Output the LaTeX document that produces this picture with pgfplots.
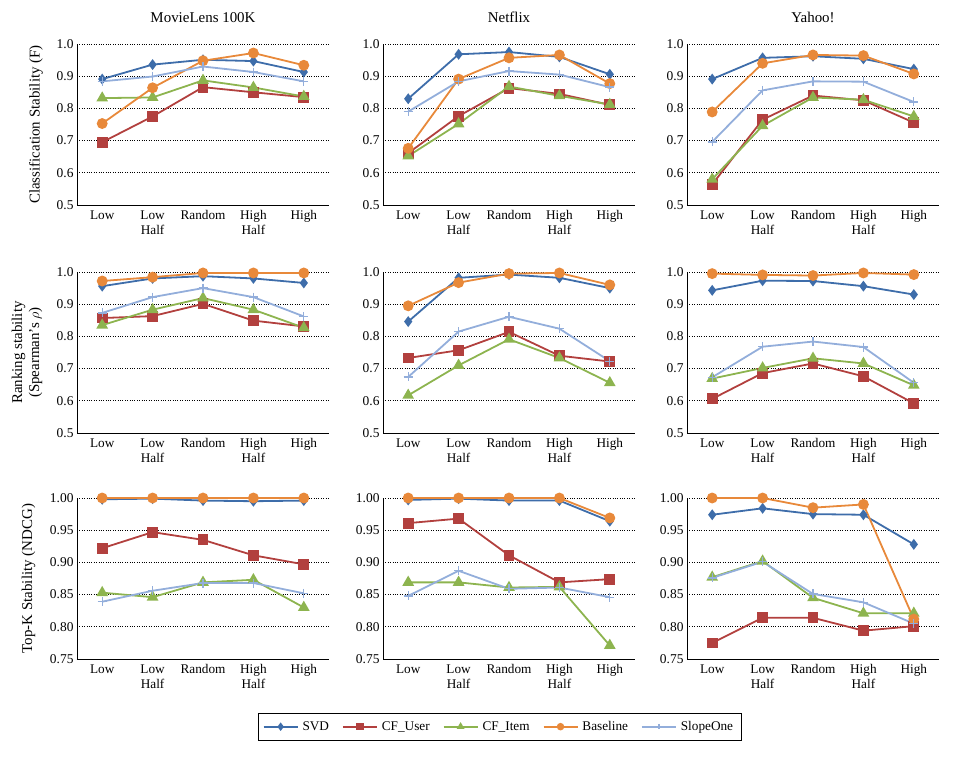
\documentclass[border=0pt]{standalone}
\usepackage{pgfplots}
\pgfplotsset{compat=1.18}
\usepackage{fontspec}
\setmainfont{Liberation Serif}
\definecolor{cSVD}{HTML}{3E6DAA}
\definecolor{cUser}{HTML}{B2403E}
\definecolor{cItem}{HTML}{8DB44F}
\definecolor{cBase}{HTML}{E8893A}
\definecolor{cSlope}{HTML}{93AEDB}
\pgfplotsset{
  myaxis/.style={
    scale only axis, width=252bp, height=161bp,
    xmin=-0.5, xmax=4.5,
    xtick={0,1,2,3,4},
    xticklabels={Low,Low\\Half,Random,High\\Half,High},
    xticklabel style={align=center, font=\fontsize{13.3}{15}\selectfont, yshift=-2bp},
    yticklabel style={font=\fontsize{13.5}{15}\selectfont},
    /pgf/number format/assume math mode=true,
    axis x line*=bottom, axis y line*=left,
    axis line style={-, black, line width=0.8bp},
    major tick length=0pt,
    ymajorgrids, grid style={dotted, black, line width=0.8bp},
    title style={font=\fontsize{15}{17}\selectfont, at={(0.5,1)}, anchor=base, yshift=16bp},
    ylabel style={font=\fontsize{15}{17}\selectfont, align=center},
    every axis plot/.append style={line width=1.8bp},
    clip=false,
  },
  rowA/.style={ymin=0.5, ymax=1.0, ytick={0.5,0.6,0.7,0.8,0.9,1.0},
    yticklabel style={/pgf/number format/.cd, fixed, fixed zerofill, precision=1}},
  rowC/.style={ymin=0.75, ymax=1.0, ytick={0.75,0.80,0.85,0.90,0.95,1.00},
    yticklabel style={/pgf/number format/.cd, fixed, fixed zerofill, precision=2}},
  pSVD/.style={color=cSVD, mark=diamond*, mark size=4bp, mark options={solid}},
  pUser/.style={color=cUser, mark=square*, mark size=4.5bp},
  pItem/.style={color=cItem, mark=triangle*, mark size=5bp},
  pBase/.style={color=cBase, mark=*, mark size=4.5bp},
  pSlope/.style={color=cSlope, mark=+, mark size=4.5bp, mark options={line width=1.3bp}},
}
\begin{document}
\begin{tikzpicture}
\path[use as bounding box] (0,0) rectangle (954bp,-759bp);
% Row 1
\begin{axis}[myaxis, rowA, at={(77bp,-44bp)}, anchor=north west, title={MovieLens 100K},
  ylabel={Classification Stability (F)}, ylabel style={at={(axis description cs:-0.163,0.5)}, anchor=center}]
\addplot[pSVD] coordinates {(0,0.891)(1,0.936)(2,0.951)(3,0.947)(4,0.913)};
\addplot[pUser] coordinates {(0,0.695)(1,0.775)(2,0.866)(3,0.850)(4,0.835)};
\addplot[pItem] coordinates {(0,0.832)(1,0.834)(2,0.887)(3,0.865)(4,0.837)};
\addplot[pBase] coordinates {(0,0.753)(1,0.864)(2,0.948)(3,0.972)(4,0.934)};
\addplot[pSlope] coordinates {(0,0.884)(1,0.899)(2,0.930)(3,0.913)(4,0.884)};
\end{axis}
\begin{axis}[myaxis, rowA, at={(383bp,-44bp)}, anchor=north west, title={Netflix}]
\addplot[pSVD] coordinates {(0,0.830)(1,0.968)(2,0.975)(3,0.960)(4,0.906)};
\addplot[pUser] coordinates {(0,0.661)(1,0.776)(2,0.863)(3,0.845)(4,0.811)};
\addplot[pItem] coordinates {(0,0.652)(1,0.752)(2,0.868)(3,0.839)(4,0.812)};
\addplot[pBase] coordinates {(0,0.676)(1,0.891)(2,0.957)(3,0.966)(4,0.877)};
\addplot[pSlope] coordinates {(0,0.790)(1,0.884)(2,0.916)(3,0.905)(4,0.866)};
\end{axis}
\begin{axis}[myaxis, rowA, at={(687bp,-44bp)}, anchor=north west, title={Yahoo!}]
\addplot[pSVD] coordinates {(0,0.891)(1,0.957)(2,0.962)(3,0.954)(4,0.922)};
\addplot[pUser] coordinates {(0,0.564)(1,0.765)(2,0.840)(3,0.825)(4,0.756)};
\addplot[pItem] coordinates {(0,0.580)(1,0.746)(2,0.834)(3,0.827)(4,0.775)};
\addplot[pBase] coordinates {(0,0.789)(1,0.940)(2,0.966)(3,0.964)(4,0.907)};
\addplot[pSlope] coordinates {(0,0.696)(1,0.856)(2,0.884)(3,0.883)(4,0.820)};
\end{axis}
% Row 2
\begin{axis}[myaxis, rowA, at={(77bp,-272bp)}, anchor=north west,
  ylabel={Ranking stability\\(Spearman's $\rho$)}, ylabel style={at={(axis description cs:-0.198,0.5)}, anchor=center}]
\addplot[pSVD] coordinates {(0,0.956)(1,0.980)(2,0.987)(3,0.980)(4,0.966)};
\addplot[pUser] coordinates {(0,0.857)(1,0.863)(2,0.901)(3,0.849)(4,0.831)};
\addplot[pItem] coordinates {(0,0.835)(1,0.883)(2,0.919)(3,0.883)(4,0.827)};
\addplot[pBase] coordinates {(0,0.972)(1,0.984)(2,0.997)(3,0.997)(4,0.997)};
\addplot[pSlope] coordinates {(0,0.873)(1,0.922)(2,0.950)(3,0.922)(4,0.862)};
\end{axis}
\begin{axis}[myaxis, rowA, at={(383bp,-272bp)}, anchor=north west]
\addplot[pSVD] coordinates {(0,0.846)(1,0.982)(2,0.992)(3,0.982)(4,0.950)};
\addplot[pUser] coordinates {(0,0.733)(1,0.757)(2,0.814)(3,0.740)(4,0.722)};
\addplot[pItem] coordinates {(0,0.617)(1,0.710)(2,0.791)(3,0.733)(4,0.656)};
\addplot[pBase] coordinates {(0,0.895)(1,0.967)(2,0.995)(3,0.997)(4,0.960)};
\addplot[pSlope] coordinates {(0,0.674)(1,0.815)(2,0.861)(3,0.824)(4,0.723)};
\end{axis}
\begin{axis}[myaxis, rowA, at={(687bp,-272bp)}, anchor=north west]
\addplot[pSVD] coordinates {(0,0.943)(1,0.973)(2,0.972)(3,0.956)(4,0.930)};
\addplot[pUser] coordinates {(0,0.606)(1,0.686)(2,0.716)(3,0.676)(4,0.592)};
\addplot[pItem] coordinates {(0,0.669)(1,0.702)(2,0.732)(3,0.716)(4,0.648)};
\addplot[pBase] coordinates {(0,0.995)(1,0.991)(2,0.989)(3,0.997)(4,0.992)};
\addplot[pSlope] coordinates {(0,0.673)(1,0.768)(2,0.784)(3,0.767)(4,0.656)};
\end{axis}
% Row 3
\begin{axis}[myaxis, rowC, at={(77bp,-498bp)}, anchor=north west,
  ylabel={Top-K Stability (NDCG)}, ylabel style={at={(axis description cs:-0.192,0.5)}, anchor=center}]
\addplot[pSVD] coordinates {(0,0.998)(1,0.999)(2,0.996)(3,0.995)(4,0.996)};
\addplot[pUser] coordinates {(0,0.922)(1,0.947)(2,0.935)(3,0.911)(4,0.897)};
\addplot[pItem] coordinates {(0,0.853)(1,0.846)(2,0.869)(3,0.873)(4,0.830)};
\addplot[pBase] coordinates {(0,1.000)(1,1.000)(2,1.000)(3,1.000)(4,1.000)};
\addplot[pSlope] coordinates {(0,0.839)(1,0.856)(2,0.868)(3,0.868)(4,0.852)};
\end{axis}
\begin{axis}[myaxis, rowC, at={(383bp,-498bp)}, anchor=north west,
  legend columns=5,
  legend style={at={(0.464,-0.335)}, anchor=north, draw=black, line width=0.8bp,
    font=\fontsize{13.3}{15}\selectfont, /tikz/every even column/.append style={column sep=9bp},
    inner xsep=4bp, inner ysep=6bp,
    nodes={inner xsep=4bp}},
  legend image code/.code={\draw[mark repeat=2,mark phase=2,mark size=2.8bp] plot coordinates {(0bp,0bp)(17bp,0bp)(34bp,0bp)};}]
\addplot[pSVD] coordinates {(0,0.997)(1,0.999)(2,0.996)(3,0.996)(4,0.964)};
\addplot[pUser] coordinates {(0,0.961)(1,0.968)(2,0.911)(3,0.869)(4,0.874)};
\addplot[pItem] coordinates {(0,0.869)(1,0.869)(2,0.861)(3,0.862)(4,0.771)};
\addplot[pBase] coordinates {(0,1.000)(1,1.000)(2,1.000)(3,1.000)(4,0.969)};
\addplot[pSlope] coordinates {(0,0.848)(1,0.887)(2,0.859)(3,0.861)(4,0.846)};
\legend{SVD,CF\_User,CF\_Item,Baseline,SlopeOne}
\end{axis}
\begin{axis}[myaxis, rowC, at={(687bp,-498bp)}, anchor=north west]
\addplot[pSVD] coordinates {(0,0.974)(1,0.984)(2,0.975)(3,0.974)(4,0.928)};
\addplot[pUser] coordinates {(0,0.775)(1,0.814)(2,0.814)(3,0.794)(4,0.801)};
\addplot[pItem] coordinates {(0,0.877)(1,0.902)(2,0.845)(3,0.821)(4,0.821)};
\addplot[pBase] coordinates {(0,1.000)(1,1.000)(2,0.985)(3,0.990)(4,0.812)};
\addplot[pSlope] coordinates {(0,0.876)(1,0.901)(2,0.851)(3,0.838)(4,0.805)};
\end{axis}
\end{tikzpicture}
\end{document}
